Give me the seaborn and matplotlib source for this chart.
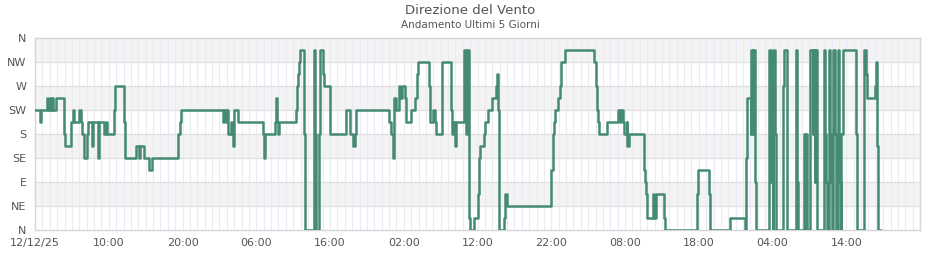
import matplotlib
matplotlib.use("Agg")
import matplotlib.pyplot as plt
import seaborn as sns
import pandas as pd
from matplotlib.ticker import MultipleLocator

# ---- data (hours since 12/12/25 00:00, direction in degrees) ----
hours = [
    0.00, 0.68, 0.88, 1.63, 1.77, 1.97, 2.11, 2.24, 2.38, 2.85, 3.87, 4.01, 4.89, 5.10, 5.23,
    5.98, 6.18, 6.39, 6.59, 7.00, 7.20, 7.68, 7.81, 8.49, 8.63, 9.38, 9.58, 9.78, 10.67, 10.80,
    12.09, 12.23, 13.72, 14.06, 14.20, 14.81, 15.49, 15.90, 19.43, 19.63, 19.84, 25.54, 25.68,
    25.88, 26.02, 26.22, 26.63, 26.77, 26.90, 27.04, 27.58, 30.98, 31.07, 31.18, 32.61, 32.68,
    32.81, 32.95, 33.15, 35.33, 35.46, 35.60, 35.73, 35.87, 36.48, 36.55, 37.77, 37.91, 38.04,
    38.45, 38.59, 38.99, 39.13, 40.01, 42.12, 42.66, 43.14, 43.34, 43.48, 47.96, 48.30, 48.51,
    48.64, 48.91, 49.32, 49.52, 49.80, 50.14, 50.34, 51.02, 51.49, 51.77, 51.97, 53.40, 53.60,
    53.94, 54.21, 54.42, 55.23, 56.39, 56.52, 56.66, 56.93, 57.07, 58.15, 58.42, 58.56, 58.83,
    58.97, 59.51, 60.05, 60.19, 60.39, 60.83, 61.05, 61.41, 61.96, 62.46, 62.64, 62.77, 62.87,
    62.98, 63.55, 63.72, 64.00, 69.97, 70.20, 70.34, 70.52, 70.92, 71.20, 71.33, 71.81, 75.86,
    76.02, 76.15, 76.29, 76.46, 77.54, 79.08, 79.28, 79.42, 79.69, 79.82, 80.23, 80.30, 80.53,
    82.54, 82.68, 82.88, 82.98, 83.74, 83.97, 84.24, 85.26, 85.42, 89.81, 89.95, 91.40, 91.58,
    94.23, 96.26, 96.40, 96.54, 97.08, 97.15, 97.29, 97.42, 97.62, 97.76, 99.46, 99.73, 99.82,
    99.91, 100.00, 100.10, 100.31, 100.41, 100.54, 101.45, 101.54, 101.90, 102.00, 103.22,
    103.33, 103.44, 104.25, 104.35, 104.49, 104.62, 105.03, 105.44, 105.53, 105.71, 105.80,
    105.98, 106.07, 106.93, 107.06, 107.24, 107.34, 107.61, 107.84, 107.95, 108.06, 108.19,
    108.42, 108.56, 108.87, 109.06, 109.14, 109.24, 109.33, 109.51, 111.35, 111.45, 112.36,
    112.46, 112.68, 112.81, 113.95, 114.06, 114.20, 114.31, 114.74,
]
direction = [
    225, 202.5, 225, 247.5, 225, 247.5, 225, 247.5, 225, 247.5, 180, 157.5, 202.5, 225, 202.5,
    225, 202.5, 180, 135, 180, 202.5, 157.5, 202.5, 135, 202.5, 180, 202.5, 180, 225, 270,
    202.5, 135, 157.5, 135, 157.5, 135, 112.5, 135, 180, 202.5, 225, 202.5, 225,
    202.5, 225, 180, 202.5, 180, 157.5, 225, 202.5, 180, 135, 180, 202.5, 247.5,
    202.5, 180, 202.5, 225, 270, 292.5, 315, 337.5, 180, 0, 337.5, 180, 0,
    180, 337.5, 292.5, 270, 180, 225, 180, 157.5, 180, 225, 202.5, 180, 135,
    247.5, 225, 270, 247.5, 270, 247.5, 202.5, 225, 247.5, 292.5, 315, 270, 202.5,
    225, 202.5, 180, 315, 225, 180, 202.5, 157.5, 202.5, 337.5, 180, 337.5, 22.5,
    0, 22.5, 67.5, 135, 157.5, 180, 202.5, 225, 247.5, 270, 292.5, 225, 67.5,
    0, 22.5, 67.5, 45, 112.5, 180, 202.5, 225, 247.5, 270, 315, 337.5, 315,
    270, 225, 202.5, 180, 202.5, 225, 202.5, 225, 202.5, 180, 202.5, 157.5, 180,
    112.5, 90, 67.5, 22.5, 67.5, 22.5, 67.5, 22.5, 0, 67.5, 112.5, 67.5, 0,
    22.5, 0, 135, 247.5, 180, 337.5, 180, 337.5, 90, 0, 337.5, 180, 90,
    180, 0, 337.5, 180, 90, 0, 270, 337.5, 180, 0, 337.5,
    90, 0, 180, 0, 180, 0, 337.5, 180, 337.5, 90, 337.5,
    180, 0, 337.5, 180, 90, 0, 337.5, 180, 90, 0, 337.5,
    180, 0, 337.5, 180, 90, 0, 180, 337.5, 180, 0, 180,
    337.5, 292.5, 247.5, 270, 315, 157.5, 0, 0,
]

x_ticks = [0, 10, 20, 30, 40, 50, 60, 70, 80, 90, 100, 110]
x_labels = ["12/12/25", "10:00", "20:00", "06:00", "16:00", "02:00",
            "12:00", "22:00", "08:00", "18:00", "04:00", "14:00"]
y_ticks = [0, 45, 90, 135, 180, 225, 270, 315, 360]
y_labels = ["N", "NE", "E", "SE", "S", "SW", "W", "NW", "N"]

df = pd.DataFrame({"hours": hours, "direction": direction})

sns.set_style("white")
plt.rcParams["font.family"] = ["DejaVu Sans"]

fig = plt.figure(figsize=(9.4, 2.6), dpi=100)
ax = fig.add_axes([35 / 940, 1 - 230 / 260, 885 / 940, 192 / 260])

# alternating bands
for i, lo in enumerate(range(0, 360, 45)):
    if i % 2 == 1:
        ax.axhspan(lo, lo + 45, color="#f3f3f3", zorder=0, lw=0)

sns.lineplot(data=df, x="hours", y="direction", ax=ax, drawstyle="steps-post",
             color="#458a72", linewidth=1.8, estimator=None, sort=False, zorder=3)

ax.set_xlim(0, 120)
ax.set_ylim(0, 360)
ax.set_xticks(x_ticks)
ax.set_xticklabels(x_labels)
ax.set_yticks(y_ticks)
ax.set_yticklabels(y_labels)
ax.xaxis.set_minor_locator(MultipleLocator(1))
ax.grid(False)
ax.grid(which="minor", axis="x", color="#ebebf8", linewidth=0.8, zorder=1)
ax.grid(which="major", axis="x", color="#ebebf8", linewidth=0.8, zorder=1)
ax.grid(which="major", axis="y", color="#e0e0e0", linewidth=0.9, zorder=1)
ax.set_axisbelow(True)
ax.tick_params(axis="both", which="both", length=0, labelsize=8, colors="#555555", pad=6)
ax.set_xlabel("")
ax.set_ylabel("")
for sp in ax.spines.values():
    sp.set_color("#d6d6d6")
    sp.set_linewidth(1.0)

fig.text(0.5, 1 - 10 / 260, "Direzione del Vento", ha="center", va="center",
         fontsize=9.5, color="#555555")
fig.text(0.5, 1 - 25 / 260, "Andamento Ultimi 5 Giorni", ha="center", va="center",
         fontsize=7.5, color="#555555")

fig.savefig("out.png", dpi=100)
